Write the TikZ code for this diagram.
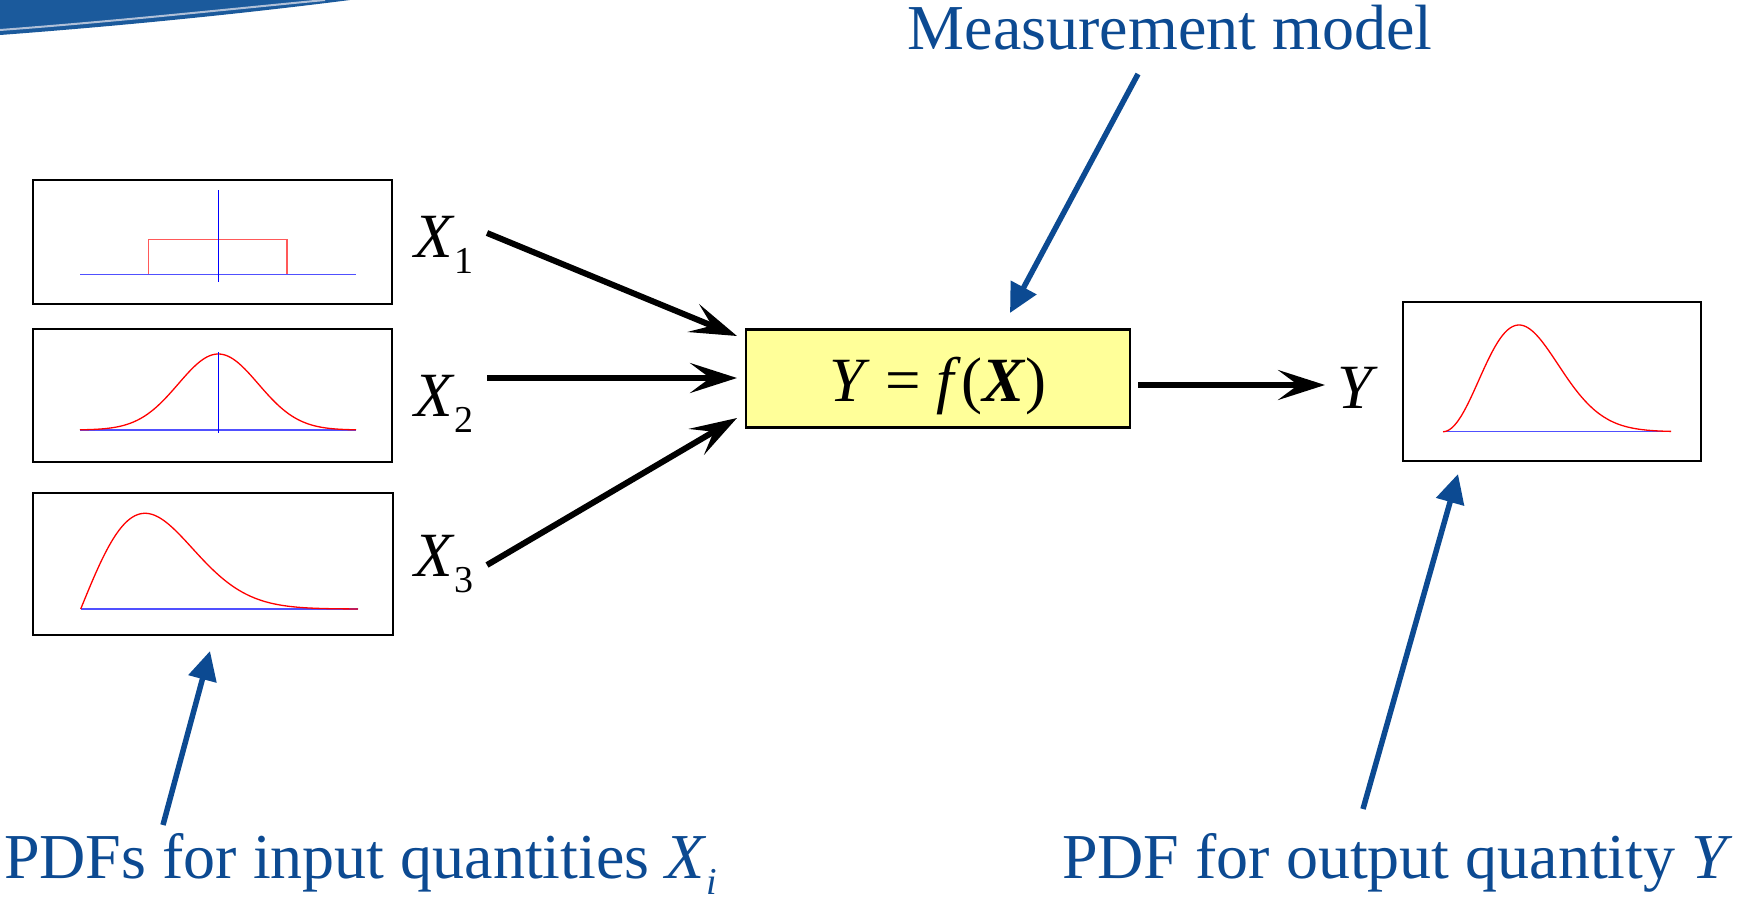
\documentclass[tikz,border=0pt]{standalone}
\usepackage{fontspec}
\setmainfont{Liberation Serif}[ItalicFont={Liberation Serif Italic}, BoldFont={Liberation Serif Bold}, BoldItalicFont={Liberation Serif Bold Italic}]
\usetikzlibrary{arrows.meta}
\definecolor{lblblue}{RGB}{12,74,146}
\definecolor{swooshblue}{RGB}{27,90,156}
\definecolor{swooshline}{RGB}{176,192,216}
\definecolor{boxyellow}{RGB}{255,255,153}
\definecolor{baseblue}{RGB}{80,80,255}
\newcommand\mysub[1]{\raisebox{-16pt}{\fontsize{38}{38}\selectfont #1}}
\begin{document}
\begin{tikzpicture}[x=1pt,y=-1pt,
  plotbox/.style={draw=black, line width=2.7pt, inner sep=0pt, fill=white},
  modelbox/.style={draw=black, line width=2.6pt, inner sep=0pt, fill=boxyellow},
  lbl/.style={text=lblblue, inner sep=0pt, font=\fontsize{64}{70}\selectfont},
  mathlbl/.style={text=black, inner sep=0pt, font=\fontsize{63}{68}\selectfont},
  blackarrow/.style={draw=black, line width=6pt, -{Stealth[length=47pt,width=30pt,inset=20pt]}},
  bluearrow/.style={draw=lblblue, line width=5.5pt, -{Triangle[length=29pt,width=28pt]}},
  baseline/.style={draw=baseblue, line width=1.2pt},
  curve/.style={draw=red, line width=1.3pt},
  axisline/.style={draw=blue, line width=1.4pt}
]
\useasboundingbox (0,0) rectangle (1738,899);
\fill[white] (0,0) rectangle (1738,899);

% corner swoosh
\fill[swooshblue] (0,0) -- (350,0) .. controls (240,14) and (120,26) .. (0,35) -- cycle;
\draw[swooshline, line width=2pt] (0,30) .. controls (120,21) and (230,9) .. (325,0);

% plot boxes
\node[plotbox, minimum width=359pt, minimum height=124pt] (p1) at (212.5,242) {};
\node[plotbox, minimum width=359pt, minimum height=133pt] (p2) at (212.5,395.5) {};
\node[plotbox, minimum width=360pt, minimum height=142pt] (p3) at (213,564) {};
\node[plotbox, minimum width=298pt, minimum height=159pt] (pout) at (1552,381.5) {};

% box 1: rectangular
\draw[baseline] (80,274.3) -- (356,274.3);
\draw[curve, draw=red!65] (148.7,274.3) |- (287,239.7) -- (287,274.3);
\draw[axisline] (218.3,190) -- (218.3,282);

% box 2: gaussian
\draw[baseline] (80,430) -- (356,430);
\draw[curve] plot[domain=80:356, samples=140, smooth] (\x, {430-76*exp(-((\x-218.3)/40)*((\x-218.3)/40)/2)});
\draw[axisline] (218.3,352) -- (218.3,433);

% box 3: skewed
\draw[baseline] (80.7,609) -- (358,609);
\draw[curve] plot[domain=0:277.3, samples=160, smooth] ({80.7+\x}, {609-95.7*(\x/64.3)*exp((1-(\x/64.3)*(\x/64.3))/2)});

% output box
\draw[baseline] (1443,431.7) -- (1671,431.7);
\draw[curve] plot[domain=0:228, samples=160, smooth] ({1443+\x}, {431.7-106.7*(\x/76)*(\x/76)*exp(1-(\x/76)*(\x/76))});

% model box
\node[modelbox, minimum width=384pt, minimum height=98pt] (model) at (938,378.3) {};
\node[mathlbl, anchor=base] (ftext) at (938,401.7) {\textit{Y} = \textit{f}(\textbf{\textit{X}})};

% input labels
\node[mathlbl, anchor=base west] (x1) at (414,257.3) {\textit{X}\mysub{1}};
\node[mathlbl, anchor=base west] (x2) at (414,416.7) {\textit{X}\mysub{2}};
\node[mathlbl, anchor=base west] (x3) at (414,576.7) {\textit{X}\mysub{3}};
\node[mathlbl, anchor=base west] (ylbl) at (1337,408) {\textit{Y}};

% blue labels
\node[lbl, anchor=base] (mm) at (1170,50) {Measurement model};
\node[lbl, anchor=base west] (inlbl) at (4,878) {PDFs for input quantities \textit{X}\mysub{\textit{i}}};
\node[lbl, anchor=base east] (outlbl) at (1733,878) {PDF for output quantity \textit{Y}};

% arrow end points
\coordinate (a1s) at (487,233);   \coordinate (a1e) at (737,336);
\coordinate (a2s) at (487,378);   \coordinate (a2e) at (737,378);
\coordinate (a3s) at (487,565);   \coordinate (a3e) at (737,418);
\coordinate (aos) at (1138,385);  \coordinate (aoe) at (1325,385);
\coordinate (bms) at (1138,74);   \coordinate (bme) at (1010,313);
\coordinate (bis) at (163,825);   \coordinate (bie) at (210,651);
\coordinate (bos) at (1363,809);  \coordinate (boe) at (1458,474);

\draw[blackarrow] (a1s) -- (a1e);
\draw[blackarrow] (a2s) -- (a2e);
\draw[blackarrow] (a3s) -- (a3e);
\draw[blackarrow] (aos) -- (aoe);

\draw[bluearrow] (bms) -- (bme);
\draw[bluearrow] (bis) -- (bie);
\draw[bluearrow] (bos) -- (boe);
\end{tikzpicture}
\end{document}
